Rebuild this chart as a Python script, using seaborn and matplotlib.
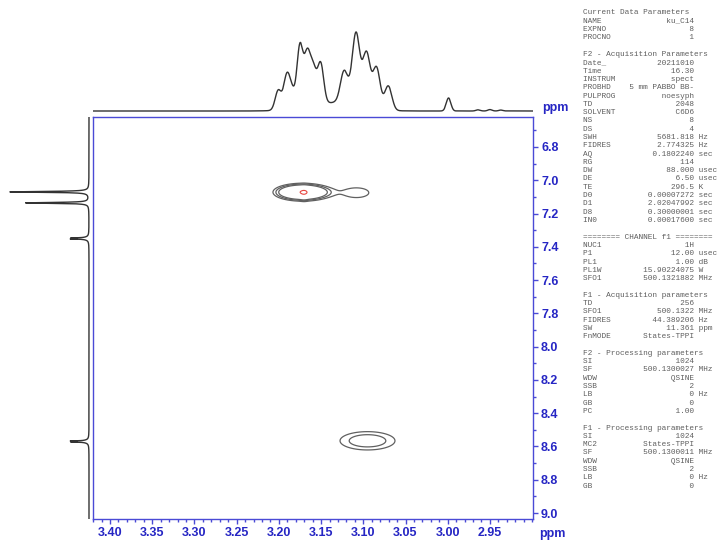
import numpy as np
import matplotlib
matplotlib.use("Agg")
import matplotlib.pyplot as plt
from matplotlib.ticker import MultipleLocator
import seaborn as sns

# ---------------- spectral data ----------------
# F2 (1H, direct) projection: Gaussian lines, position (ppm), height, sigma (ppm)
# the last two entries are the broad underlying humps of the multiplets
f2_shift = [3.2007, 3.1908, 3.1849, 3.1750, 3.1663, 3.1592, 3.1505,
            3.1229, 3.1087, 3.0960, 3.0842, 3.0704,
            2.9990, 2.9640, 2.9500, 2.9370,
            3.1370, 3.1050]
f2_height = [0.25, 0.40, 0.21, 0.78, 0.63, 0.43, 0.51,
             0.35, 0.72, 0.535, 0.48, 0.305,
             0.165, 0.015, 0.018, 0.012,
             0.10, 0.22]
f2_sigma = [0.0036, 0.0036, 0.0036, 0.0036, 0.0036, 0.0036, 0.0036,
            0.0042, 0.0042, 0.0042, 0.0042, 0.0042,
            0.0027, 0.0025, 0.0025, 0.0025,
            0.030, 0.012]

# F1 (1H, indirect) projection: Lorentzian lines, position (ppm), height, half-width (ppm)
f1_shift = [7.070, 7.136, 7.350, 7.347, 7.353, 8.570, 8.567, 8.573]
f1_height = [1.00, 0.80, 0.11, 0.14, 0.14, 0.11, 0.14, 0.14]
f1_hwhm = [0.003, 0.003, 0.007, 0.0012, 0.0012, 0.007, 0.0012, 0.0012]

# NOESY cross peaks (F2 ppm, F1 ppm, amplitude, widths)
cross_f2 = [3.172, 3.170, 3.108, 3.095]
cross_f1 = [7.072, 7.078, 7.075, 8.566]
cross_amp = [1.00, 0.15, 0.13, 0.22]
cross_w2 = [0.0163, 0.003, 0.020, 0.0259]
cross_w1 = [0.0252, 0.025, 0.040, 0.0438]
contour_levels = [0.10, 0.155, 0.225]
top_level = [1.027]

# axis ranges and ticks
f2_range = (3.4201, 2.899)
f1_range = (6.620, 9.036)
x_tick_vals = [3.40, 3.35, 3.30, 3.25, 3.20, 3.15, 3.10, 3.05, 3.00, 2.95]
x_tick_labels = ["3.40", "3.35", "3.30", "3.25", "3.20", "3.15", "3.10", "3.05", "3.00", "2.95"]
y_tick_vals = [6.8, 7.0, 7.2, 7.4, 7.6, 7.8, 8.0, 8.2, 8.4, 8.6, 8.8, 9.0]
y_tick_labels = ["6.8", "7.0", "7.2", "7.4", "7.6", "7.8", "8.0", "8.2", "8.4", "8.6", "8.8", "9.0"]

# acquisition / processing parameter listing
param_sections = [
    ("Current Data Parameters", [
        ("NAME", "ku_C14", ""), ("EXPNO", "8", ""), ("PROCNO", "1", "")]),
    ("F2 - Acquisition Parameters", [
        ("Date_", "20211010", ""), ("Time", "16.30", ""), ("INSTRUM", "spect", ""),
        ("PROBHD", "5 mm PABBO BB-", ""), ("PULPROG", "noesyph", ""), ("TD", "2048", ""),
        ("SOLVENT", "C6D6", ""), ("NS", "8", ""), ("DS", "4", ""),
        ("SWH", "5681.818", "Hz"), ("FIDRES", "2.774325", "Hz"), ("AQ", "0.1802240", "sec"),
        ("RG", "114", ""), ("DW", "88.000", "usec"), ("DE", "6.50", "usec"),
        ("TE", "296.5", "K"), ("D0", "0.00007272", "sec"), ("D1", "2.02047992", "sec"),
        ("D8", "0.30000001", "sec"), ("IN0", "0.00017600", "sec")]),
    ("======== CHANNEL f1 ========", [
        ("NUC1", "1H", ""), ("P1", "12.00", "usec"), ("PL1", "1.00", "dB"),
        ("PL1W", "15.90224075", "W"), ("SFO1", "500.1321882", "MHz")]),
    ("F1 - Acquisition parameters", [
        ("TD", "256", ""), ("SFO1", "500.1322", "MHz"), ("FIDRES", "44.389206", "Hz"),
        ("SW", "11.361", "ppm"), ("FnMODE", "States-TPPI", "")]),
    ("F2 - Processing parameters", [
        ("SI", "1024", ""), ("SF", "500.1300027", "MHz"), ("WDW", "QSINE", ""),
        ("SSB", "2", ""), ("LB", "0", "Hz"), ("GB", "0", ""), ("PC", "1.00", "")]),
    ("F1 - Processing parameters", [
        ("SI", "1024", ""), ("MC2", "States-TPPI", ""), ("SF", "500.1300011", "MHz"),
        ("WDW", "QSINE", ""), ("SSB", "2", ""), ("LB", "0", "Hz"), ("GB", "0", "")]),
]


def gauss_sum(grid, centres, heights, sigmas):
    out = np.zeros_like(grid)
    for c, h, s in zip(centres, heights, sigmas):
        out += h * np.exp(-(grid - c) ** 2 / (2 * s ** 2))
    return out


def lorentz_sum(grid, centres, heights, widths):
    out = np.zeros_like(grid)
    for c, h, w in zip(centres, heights, widths):
        out += h * w ** 2 / ((grid - c) ** 2 + w ** 2)
    return out


# ---------------- figure ----------------
sns.set_theme(style="white")
plt.rcParams["font.family"] = ["Liberation Sans", "DejaVu Sans"]

W, H = 721, 543
fig = plt.figure(figsize=(W / 100, H / 100), dpi=100)


def box(left, top, right, bottom):
    return [left / W, 1 - bottom / H, (right - left) / W, (bottom - top) / H]


ax = fig.add_axes(box(93, 117, 533, 519))
ax_top = fig.add_axes(box(93, 20, 533, 114))
ax_left = fig.add_axes(box(5, 117, 93, 519))

axis_blue = "#4a4ad6"
label_blue = "#2626c4"
trace = "#333333"

# 2D contour map
gx = np.linspace(min(f2_range), max(f2_range), 900)
gy = np.linspace(min(f1_range), max(f1_range), 900)
GX, GY = np.meshgrid(gx, gy)
Z = np.zeros_like(GX)
for x0, y0, a, sx, sy in zip(cross_f2, cross_f1, cross_amp, cross_w2, cross_w1):
    Z += a * np.exp(-((GX - x0) ** 2 / (2 * sx ** 2) + (GY - y0) ** 2 / (2 * sy ** 2)))
ax.contour(GX, GY, Z, levels=contour_levels, colors="#606060", linewidths=0.9)
ax.contour(GX, GY, Z, levels=top_level, colors="#e8453f", linewidths=0.8)

ax.set_xlim(*f2_range)
ax.set_ylim(f1_range[1], f1_range[0])
for sp in ax.spines.values():
    sp.set_color(axis_blue)
    sp.set_linewidth(1.0)
    sp.set_visible(True)

ax.set_xticks(x_tick_vals)
ax.set_xticklabels(x_tick_labels, fontweight="bold", fontsize=9, color=label_blue)
ax.set_yticks(y_tick_vals)
ax.set_yticklabels(y_tick_labels, fontweight="bold", fontsize=9, color=label_blue)
ax.xaxis.set_minor_locator(MultipleLocator(0.01))
ax.yaxis.set_minor_locator(MultipleLocator(0.1))
ax.yaxis.tick_right()
ax.tick_params(axis="x", which="both", bottom=True, top=False, direction="out",
               color=axis_blue, width=1.0, pad=2.2)
ax.tick_params(axis="y", which="both", left=False, right=True, direction="out",
               color=axis_blue, width=1.0, pad=2.2)
ax.tick_params(which="major", length=3.6)
ax.tick_params(which="minor", length=2.0)
ax.set_xlabel("")
ax.set_ylabel("")

# F2 projection on top
px2 = np.linspace(min(f2_range), max(f2_range), 3000)
sns.lineplot(x=px2, y=gauss_sum(px2, f2_shift, f2_height, f2_sigma), ax=ax_top,
             color=trace, linewidth=1.0, estimator=None, sort=False)
ax_top.set_xlim(*f2_range)
ax_top.set_ylim(-0.038, 1.152)
ax_top.axis("off")

# F1 projection on the left
py1 = np.linspace(min(f1_range), max(f1_range), 4000)
sns.lineplot(x=lorentz_sum(py1, f1_shift, f1_height, f1_hwhm), y=py1, ax=ax_left,
             color=trace, linewidth=1.0, estimator=None, sort=False, orient="y")
ax_left.set_xlim(1.063, -0.0506)
ax_left.set_ylim(f1_range[1], f1_range[0])
ax_left.axis("off")

# axis unit labels
fig.text(542 / W, 1 - 108 / H, "ppm", fontsize=9, fontweight="bold",
         color=label_blue, ha="left", va="center")
fig.text(539 / W, 1 - 534 / H, "ppm", fontsize=9, fontweight="bold",
         color=label_blue, ha="left", va="center")

# parameter listing
lines = []
for k, (title, rows) in enumerate(param_sections):
    if k:
        lines.append("")
    lines.append(title)
    for name, value, unit in rows:
        s = f"{name:<8}{value:>16}"
        if unit:
            s += " " + unit
        lines.append(s)

for i, s in enumerate(lines):
    if s:
        fig.text(583 / W, 1 - (13 + i * 8.3) / H, s, family="Liberation Mono",
                 fontsize=5.6, color="#5e5e5e", ha="left", va="center")

fig.savefig("out.png", dpi=100)
